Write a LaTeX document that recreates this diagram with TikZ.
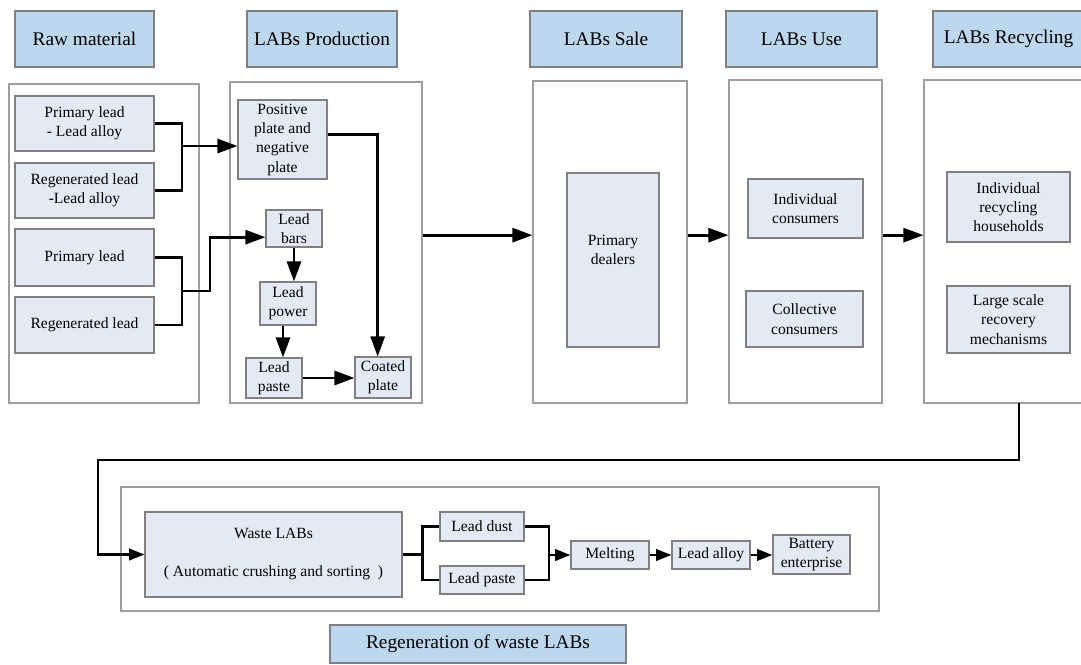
\documentclass[tikz,border=0pt]{standalone}
\usepackage{fontspec}
\setmainfont{Liberation Serif}
\usetikzlibrary{arrows.meta}
\definecolor{hdrfill}{HTML}{BDD7EE}
\definecolor{boxfill}{HTML}{E3EAF5}
\newcommand{\placebox}[7]{%
  \pgfmathsetmacro\bxcx{(#3+#5)/2}%
  \pgfmathsetmacro\bxcy{(#4+#6)/2}%
  \pgfmathsetmacro\bxw{(#5-#3)*0.75}%
  \pgfmathsetmacro\bxh{(#6-#4)*0.75}%
  \node[#1, minimum width=\bxw pt, minimum height=\bxh pt] (#2) at (\bxcx,\bxcy) {#7};}
\begin{document}
\begin{tikzpicture}[x=0.75pt,y=-0.75pt,
  hdr/.style={draw=black!50, fill=hdrfill, line width=0.8pt, inner sep=0pt, font=\fontsize{14.5}{17}\selectfont},
  col/.style={draw=black!38, line width=0.8pt, inner sep=0pt},
  bx/.style={draw=black!50, fill=boxfill, line width=0.8pt, inner sep=0pt, align=center, font=\fontsize{11.7}{14.5}\selectfont},
  txt/.style={inner sep=0pt, align=center, font=\fontsize{11.7}{14.5}\selectfont},
  conn/.style={line width=2pt},
  arr/.style={conn, -{Triangle[length=15pt,width=10.5pt]}},
  sarr/.style={conn, -{Triangle[length=11.5pt,width=8.5pt]}}]
\clip (0,0) rectangle (1081,664);
% headers
\placebox{hdr}{h1}{15}{11}{154}{67}{Raw material}
\placebox{hdr}{h2}{247}{11}{397}{67}{LABs Production}
\placebox{hdr}{h3}{530}{11}{682}{67}{LABs Sale}
\placebox{hdr}{h4}{726}{11}{877}{67}{LABs Use}
\placebox{hdr}{h5}{933}{11}{1084}{67}{LABs Recycling}
\placebox{hdr}{h6}{330}{625}{626}{663}{Regeneration of waste LABs}
% columns
\placebox{col}{c1}{9}{84}{199}{403}{}
\placebox{col}{c2}{230}{82}{422}{403}{}
\placebox{col}{c3}{533}{81}{687}{403}{}
\placebox{col}{c4}{729}{80}{882}{403}{}
\placebox{col}{c5}{924}{80}{1092}{403}{}
\placebox{col}{c6}{121}{487}{879}{611}{}
% raw material
\placebox{bx}{pl1}{15}{96}{154}{151}{Primary lead\\- Lead alloy}
\placebox{bx}{rl1}{15}{163}{154}{218}{Regenerated lead\\-Lead alloy}
\placebox{bx}{pl2}{15}{229}{154}{286}{Primary lead}
\placebox{bx}{rl2}{15}{297}{154}{353}{Regenerated lead}
% production
\placebox{bx}{pos}{238}{100}{327}{179}{Positive\\plate and\\negative\\plate}
\placebox{bx}{bars}{266}{210}{322}{247}{Lead\\bars}
\placebox{bx}{pow}{260}{282}{316}{325}{Lead\\power}
\placebox{bx}{paste}{246}{358}{302}{398}{Lead\\paste}
\placebox{bx}{coat}{355}{357}{411}{398}{Coated\\plate}
% sale, use, recycling
\placebox{bx}{deal}{567}{173}{659}{347}{}
\node[txt] (dealtxt) at ([yshift=7.5pt]deal.center) {Primary\\dealers};
\placebox{bx}{ind}{748}{179}{863}{238}{Individual\\consumers}
\placebox{bx}{coll}{746}{291}{863}{347}{Collective\\consumers}
\placebox{bx}{irh}{947}{172}{1070}{242}{Individual\\recycling\\households}
\placebox{bx}{lsr}{947}{286}{1070}{353}{Large scale\\recovery\\mechanisms}
% regeneration
\placebox{bx}{waste}{145}{512}{402}{597}{Waste LABs\\[14pt](\ Automatic crushing and sorting\ \ )}
\placebox{bx}{dust}{440}{512}{524}{541}{Lead dust}
\placebox{bx}{lpaste}{440}{566}{524}{594}{Lead paste}
\placebox{bx}{melt}{571}{541}{649}{569}{Melting}
\placebox{bx}{alloy}{672}{541}{750}{569}{Lead alloy}
\placebox{bx}{batt}{773}{535}{850}{574}{Battery\\enterprise}
% connectors: raw material -> production
\coordinate (j1) at (182,146);
\draw[conn] (pl1.east) -| (j1) |- (rl1.east);
\draw[arr] (j1) -- (j1 -| pos.west);
\coordinate (j2) at (182,291);
\draw[conn] (pl2.east) -| (j2) |- (rl2.east);
\draw[arr] (j2) -- ++(28,0) |- ([yshift=-6.5pt]bars.west);
\draw[arr] (bars.south) -- (bars.south |- pow.north);
\coordinate (p1) at ([xshift=-3.75pt]pow.south);
\draw[arr] (p1) -- (p1 |- paste.north);
\draw[arr] (paste.east) -- (paste.east -| coat.west);
\draw[arr] ([yshift=4pt]pos.east) -| ([xshift=-4pt]coat.north);
% columns chain
\coordinate (m) at ([yshift=5.5pt]c2.east);
\draw[arr] (m) -- (m -| c3.west);
\draw[arr] (m -| c3.east) -- (m -| c4.west);
\draw[arr] (m -| c4.east) -- (m -| c5.west);
% recycling -> waste
\coordinate (r1) at (1019,403);
\coordinate (r2) at (98,460);
\draw[sarr] (r1) |- (r2) |- (waste.west);
% regeneration chain
\draw[conn] (waste.east) -- ++(20,0) coordinate (w1);
\draw[conn] (dust.west) -| (w1) |- (lpaste.west);
\coordinate (w2) at (549,555);
\draw[conn] (dust.east) -| (w2) |- (lpaste.east);
\draw[sarr] (w2) -- (w2 -| melt.west);
\draw[sarr] (melt.east) -- (alloy.west);
\draw[sarr] (alloy.east) -- (alloy.east -| batt.west);
\end{tikzpicture}
\end{document}
